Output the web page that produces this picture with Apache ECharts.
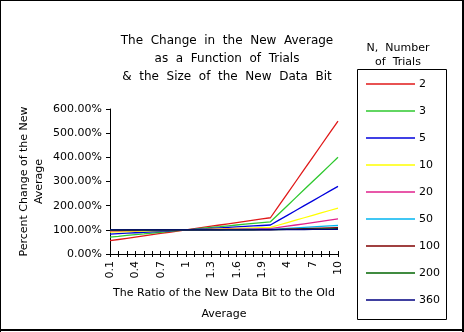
<!DOCTYPE html>
<html><head><meta charset="utf-8">
<script src="https://cdn.jsdelivr.net/npm/echarts@6/dist/echarts.min.js"></script>
<style>html,body{margin:0;padding:0;background:#fff}#c{width:464px;height:332px}</style>
</head><body><div id="c"></div>
<script>
var categories = ['0.1','0.2','0.3','0.4','0.5','0.6','0.7','0.8','0.9','1','1.1','1.2','1.3','1.4','1.5','1.6','1.7','1.8','1.9','2','3','4','5','6','7','8','9','10'];
var seriesNames = ['2','3','5','10','20','50','100','200','360'];
var n2   = [55,60,65,70,75,80,85,90,95,100,105,110,115,120,125,130,135,140,145,150,200,250,300,350,400,450,500,550];
var n3   = [70,73.3,76.7,80,83.3,86.7,90,93.3,96.7,100,103.3,106.7,110,113.3,116.7,120,123.3,126.7,130,133.3,166.7,200,233.3,266.7,300,333.3,366.7,400];
var n5   = [82,84,86,88,90,92,94,96,98,100,102,104,106,108,110,112,114,116,118,120,140,160,180,200,220,240,260,280];
var n10  = [91,92,93,94,95,96,97,98,99,100,101,102,103,104,105,106,107,108,109,110,120,130,140,150,160,170,180,190];
var n20  = [95.5,96,96.5,97,97.5,98,98.5,99,99.5,100,100.5,101,101.5,102,102.5,103,103.5,104,104.5,105,110,115,120,125,130,135,140,145];
var n50  = [98.2,98.4,98.6,98.8,99,99.2,99.4,99.6,99.8,100,100.2,100.4,100.6,100.8,101,101.2,101.4,101.6,101.8,102,104,106,108,110,112,114,116,118];
var n100 = [99.1,99.2,99.3,99.4,99.5,99.6,99.7,99.8,99.9,100,100.1,100.2,100.3,100.4,100.5,100.6,100.7,100.8,100.9,101,102,103,104,105,106,107,108,109];
var n200 = [99.55,99.6,99.65,99.7,99.75,99.8,99.85,99.9,99.95,100,100.05,100.1,100.15,100.2,100.25,100.3,100.35,100.4,100.45,100.5,101,101.5,102,102.5,103,103.5,104,104.5];
var n360 = [99.75,99.78,99.81,99.83,99.86,99.89,99.92,99.94,99.97,100,100.03,100.06,100.08,100.11,100.14,100.17,100.19,100.22,100.25,100.28,100.56,100.83,101.11,101.39,101.67,101.94,102.22,102.5];
var seriesValues = [n2,n3,n5,n10,n20,n50,n100,n200,n360];
var colors = ['#e01818','#2ec82e','#0000dd','#ffff00','#e0208c','#00b4f0','#800000','#006400','#000080'];
var yTicks = [0,100,200,300,400,500,600];

var FONT = 'DejaVu Sans';
var chart = echarts.init(document.getElementById('c'), null, {renderer:'canvas'});
var series = seriesNames.map(function(n,i){
  return {name:n, type:'line', data:seriesValues[i], symbol:'none', showSymbol:false, xAxisIndex:0,
    lineStyle:{color:colors[i], width:1.3}, itemStyle:{color:colors[i]}, animation:false};
});
chart.setOption({
  animation:false,
  color: colors,
  title:[{
    text:'The  Change  in  the  New  Average\nas  a  Function  of  Trials\n&  the  Size  of  the  New  Data  Bit',
    left:222, top:27, textAlign:'center',
    textStyle:{fontFamily:FONT,fontSize:12,fontWeight:'normal',color:'#000',lineHeight:18}
  },{
    text:'N,  Number\nof  Trials',
    left:393, top:36, textAlign:'center',
    textStyle:{fontFamily:FONT,fontSize:11,fontWeight:'normal',color:'#000',lineHeight:14}
  }],
  legend:{
    orient:'vertical', left:366, top:77, padding:0, itemWidth:49, itemHeight:1.5, itemGap:13,
    icon:'rect',
    data: seriesNames,
    textStyle:{fontFamily:FONT,fontSize:11,color:'#000',lineHeight:14,padding:[0,0,0,-1]}
  },
  grid:{left:110, right:126, top:109, bottom:78},
  xAxis:[{
    type:'category', data:categories, boundaryGap:false,
    axisLine:{lineStyle:{color:'#000',width:1}},
    axisTick:{interval:0, length:3, lineStyle:{color:'#000'}},
    axisLabel:{interval:2, rotate:90, margin:7, fontFamily:FONT, fontSize:11, color:'#000'},
    name:'The Ratio of the New Data Bit to the Old\nAverage',
    nameLocation:'middle', nameGap:27,
    nameTextStyle:{fontFamily:FONT,fontSize:11,color:'#000',lineHeight:21}
  },{
    type:'category', data:categories, boundaryGap:false, position:'bottom',
    axisLine:{show:false},
    axisTick:{interval:0, inside:true, length:3, lineStyle:{color:'#000'}},
    axisLabel:{show:false}
  }],
  yAxis:{
    type:'value', min:0, max:600, interval:100,
    splitLine:{show:false},
    axisLine:{show:true, lineStyle:{color:'#000',width:1}},
    axisTick:{show:true, length:4, lineStyle:{color:'#000'}},
    axisLabel:{margin:8, fontFamily:FONT, fontSize:11, color:'#000',
      formatter:function(v){return v.toFixed(2)+'%';}},
    name:'Percent Change of the New\nAverage',
    nameLocation:'middle', nameGap:63,
    nameTextStyle:{fontFamily:FONT,fontSize:11,color:'#000',lineHeight:15}
  },
  series: series,
  graphic:[
    {type:'rect', shape:{x:0,y:0,width:1,height:332}, style:{fill:'#000'}},
    {type:'rect', shape:{x:0,y:0,width:464,height:1}, style:{fill:'#000'}},
    {type:'rect', shape:{x:462,y:0,width:2,height:332}, style:{fill:'#000'}},
    {type:'rect', shape:{x:0,y:329,width:464,height:2}, style:{fill:'#000'}},
    {type:'rect', shape:{x:357.5,y:69.5,width:89,height:250}, style:{fill:null,stroke:'#000',lineWidth:1}}
  ]
});
</script></body></html>
